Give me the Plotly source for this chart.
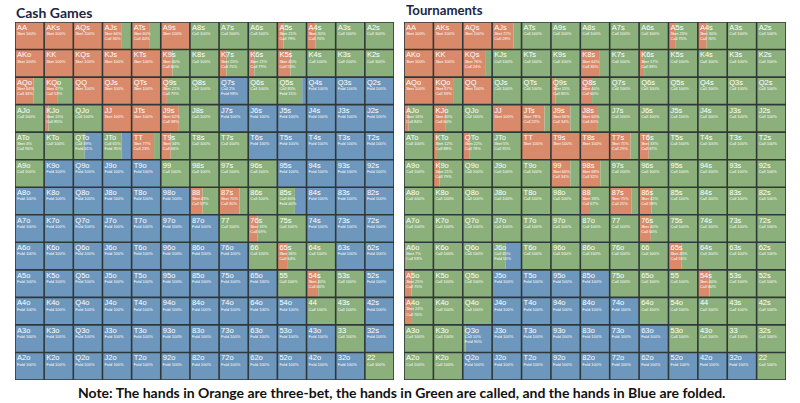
import plotly.graph_objects as go

ranks = list("AKQJT98765432")

# percentage of 3bet / call per cell (row = first rank, col = second rank); fold = rest
cash_3bet = [
    [100, 100, 100, 64, 60, 100, 0, 0, 0, 21, 30, 0, 0],
    [100, 100, 100, 100, 100, 40, 0, 25, 21, 45, 0, 0, 0],
    [64, 47, 100, 100, 100, 21, 0, 0, 0, 0, 0, 0, 0],
    [0, 15, 0, 100, 100, 62, 0, 0, 0, 0, 0, 0, 0],
    [4, 0, 0, 0, 77, 34, 0, 0, 0, 0, 0, 0, 0],
    [0, 0, 0, 0, 0, 0, 0, 0, 0, 0, 0, 0, 0],
    [0, 0, 0, 0, 0, 0, 43, 70, 0, 0, 0, 0, 0],
    [0, 0, 0, 0, 0, 0, 0, 0, 31, 0, 0, 0, 0],
    [0, 0, 0, 0, 0, 0, 0, 0, 0, 36, 0, 0, 0],
    [0, 0, 0, 0, 0, 0, 0, 0, 0, 0, 40, 0, 0],
    [0, 0, 0, 0, 0, 0, 0, 0, 0, 0, 0, 0, 0],
    [0, 0, 0, 0, 0, 0, 0, 0, 0, 0, 0, 0, 0],
    [0, 0, 0, 0, 0, 0, 0, 0, 0, 0, 0, 0, 0],
]
cash_call = [
    [0, 0, 0, 36, 40, 0, 100, 100, 100, 79, 70, 100, 100],
    [0, 0, 0, 0, 0, 60, 100, 75, 79, 55, 100, 100, 100],
    [36, 53, 0, 0, 0, 79, 100, 2, 100, 85, 0, 0, 0],
    [100, 85, 100, 0, 0, 38, 100, 0, 0, 0, 0, 0, 0],
    [96, 100, 39, 65, 23, 66, 100, 100, 0, 0, 0, 0, 0],
    [100, 0, 0, 0, 0, 100, 100, 100, 100, 0, 0, 0, 0],
    [0, 0, 0, 0, 0, 0, 57, 30, 100, 60, 0, 0, 0],
    [0, 0, 0, 0, 0, 0, 0, 100, 69, 100, 0, 0, 0],
    [0, 0, 0, 0, 0, 0, 0, 0, 100, 64, 100, 0, 0],
    [0, 0, 0, 0, 0, 0, 0, 0, 0, 100, 60, 100, 0],
    [0, 0, 0, 0, 0, 0, 0, 0, 0, 0, 100, 100, 0],
    [0, 0, 0, 0, 0, 0, 0, 0, 0, 0, 0, 100, 0],
    [0, 0, 0, 0, 0, 0, 0, 0, 0, 0, 0, 0, 100],
]
tour_3bet = [
    [100, 100, 100, 72, 0, 0, 0, 0, 0, 25, 30, 0, 0],
    [100, 100, 76, 0, 0, 0, 64, 0, 17, 0, 0, 0, 0],
    [100, 67, 100, 0, 0, 15, 40, 0, 0, 0, 0, 0, 0],
    [16, 40, 0, 100, 78, 66, 60, 0, 0, 0, 0, 0, 0],
    [0, 12, 22, 5, 100, 100, 100, 71, 33, 0, 0, 0, 0],
    [0, 21, 0, 0, 0, 66, 68, 0, 0, 0, 0, 0, 0],
    [0, 0, 0, 0, 0, 0, 33, 75, 42, 0, 0, 0, 0],
    [0, 0, 0, 0, 0, 0, 0, 0, 40, 0, 0, 0, 0],
    [7, 0, 0, 0, 0, 0, 0, 0, 0, 45, 0, 0, 0],
    [25, 0, 0, 0, 0, 0, 0, 0, 0, 0, 40, 0, 0],
    [24, 0, 0, 0, 0, 0, 0, 0, 0, 0, 0, 0, 0],
    [0, 0, 0, 0, 0, 0, 0, 0, 0, 0, 0, 0, 0],
    [0, 0, 0, 0, 0, 0, 0, 0, 0, 0, 0, 0, 0],
]
tour_call = [
    [0, 0, 0, 28, 100, 100, 100, 100, 100, 75, 70, 100, 100],
    [0, 0, 24, 100, 100, 100, 36, 100, 83, 100, 100, 100, 100],
    [0, 33, 0, 100, 100, 85, 60, 100, 100, 100, 100, 100, 100],
    [84, 60, 100, 0, 22, 34, 40, 100, 100, 100, 100, 100, 100],
    [100, 88, 78, 95, 0, 0, 0, 29, 67, 100, 100, 100, 100],
    [100, 79, 100, 100, 100, 34, 32, 100, 100, 100, 100, 100, 100],
    [100, 100, 100, 100, 100, 100, 67, 25, 58, 100, 100, 100, 100],
    [100, 100, 100, 100, 100, 100, 100, 100, 60, 100, 100, 100, 100],
    [93, 100, 100, 45, 100, 100, 100, 100, 100, 55, 100, 100, 100],
    [75, 100, 100, 0, 0, 0, 0, 100, 100, 100, 60, 100, 100],
    [76, 100, 100, 0, 0, 0, 0, 0, 100, 100, 100, 100, 100],
    [100, 100, 10, 0, 0, 0, 0, 0, 0, 100, 100, 100, 100],
    [100, 100, 0, 0, 0, 0, 0, 0, 0, 0, 0, 0, 100],
]

ORANGE = "#D98A6B"
GREEN = "#8CB07B"
BLUE = "#6E97BD"
GRID = "#2F3838"


def hand_name(i, j):
    if i == j:
        return ranks[i] + ranks[j]
    if j > i:
        return ranks[i] + ranks[j] + "s"
    return ranks[j] + ranks[i] + "o"


def add_grid(fig, bet, call, xa, ya):
    n = len(ranks)
    segs = {"3bet": ([], [], [], ORANGE), "call": ([], [], [], GREEN), "fold": ([], [], [], BLUE)}
    labels_x, labels_y, labels = [], [], []
    det_x, det_y, dets = [], [], []
    for i in range(n):
        for j in range(n):
            b = bet[i][j]
            c = call[i][j]
            f = 100 - b - c
            start = j
            for key, p in (("3bet", b), ("call", c), ("fold", f)):
                if p > 0:
                    segs[key][0].append(i + 0.5)
                    segs[key][1].append(p / 100)
                    segs[key][2].append(start)
                    start += p / 100
            labels_x.append(j + 0.07)
            labels_y.append(i + 0.22)
            labels.append(hand_name(i, j))
            lines = []
            if b > 0:
                lines.append(f"3bet {b}%")
            if c > 0:
                lines.append(f"Call {c}%")
            if f > 0:
                lines.append(f"Fold {f}%")
            det_x.append(j + 0.07)
            det_y.append(i + 0.44 + 0.09 * (len(lines) - 1))
            dets.append("<br>".join(lines))
    for key, (ys, xs, bases, col) in segs.items():
        fig.add_trace(go.Bar(
            y=ys, x=xs, base=bases, orientation="h", width=1,
            marker=dict(color=col, line=dict(width=0)),
            xaxis=xa, yaxis=ya, hoverinfo="skip", showlegend=False,
        ))
    # grid lines
    gx, gy = [], []
    for k in range(n + 1):
        gx += [0, n, None]
        gy += [k, k, None]
        gx += [k, k, None]
        gy += [0, n, None]
    fig.add_trace(go.Scatter(
        x=gx, y=gy, mode="lines", line=dict(color=GRID, width=1.6),
        xaxis=xa, yaxis=ya, hoverinfo="skip", showlegend=False,
    ))
    fig.add_trace(go.Scatter(
        x=labels_x, y=labels_y, text=labels, mode="text", textposition="middle right",
        textfont=dict(color="white", size=7.5, family="Arial"),
        xaxis=xa, yaxis=ya, hoverinfo="skip", showlegend=False,
    ))
    fig.add_trace(go.Scatter(
        x=det_x, y=det_y, text=dets, mode="text", textposition="middle right",
        textfont=dict(color="white", size=4, family="Arial"),
        xaxis=xa, yaxis=ya, hoverinfo="skip", showlegend=False,
    ))


fig = go.Figure()
add_grid(fig, cash_3bet, cash_call, "x", "y")
add_grid(fig, tour_3bet, tour_call, "x2", "y2")

W, H = 800, 403
ax = dict(range=[0, 13], showgrid=False, zeroline=False, showticklabels=False, fixedrange=True)
ay = dict(range=[13, 0], showgrid=False, zeroline=False, showticklabels=False, fixedrange=True)
ydom = [1 - 380 / H, 1 - 22 / H]

fig.update_layout(
    width=W, height=H,
    margin=dict(l=0, r=0, t=0, b=0),
    paper_bgcolor="white", plot_bgcolor="white",
    barmode="overlay",
    xaxis=dict(ax, domain=[15 / W, 394 / W]),
    yaxis=dict(ay, domain=ydom),
    xaxis2=dict(ax, domain=[404 / W, 786 / W], anchor="y2"),
    yaxis2=dict(ay, domain=ydom, anchor="x2"),
    annotations=[
        dict(text="<b>Cash Games</b>", x=14 / W, y=1 - 2 / H, xref="paper", yref="paper",
             xanchor="left", yanchor="top", showarrow=False,
             font=dict(size=14, color="#1C2742", family="Lato")),
        dict(text="<b>Tournaments</b>", x=404 / W, y=1 - 0 / H, xref="paper", yref="paper",
             xanchor="left", yanchor="top", showarrow=False,
             font=dict(size=13.2, color="#1C2742", family="Lato")),
        dict(text="<b>Note: The hands in Orange are three-bet, the hands in Green are called, and the hands in Blue are folded.</b>",
             x=401 / W, y=1 - 392 / H, xref="paper", yref="paper",
             xanchor="center", yanchor="middle", showarrow=False,
             font=dict(size=14, color="#111111", family="Lato")),
    ],
)

# drop the browser's default page margin so the figure sits at the window's corner
fig.write_html("out.html", config={"displayModeBar": False},
               post_script="document.body.style.margin='0px';")
